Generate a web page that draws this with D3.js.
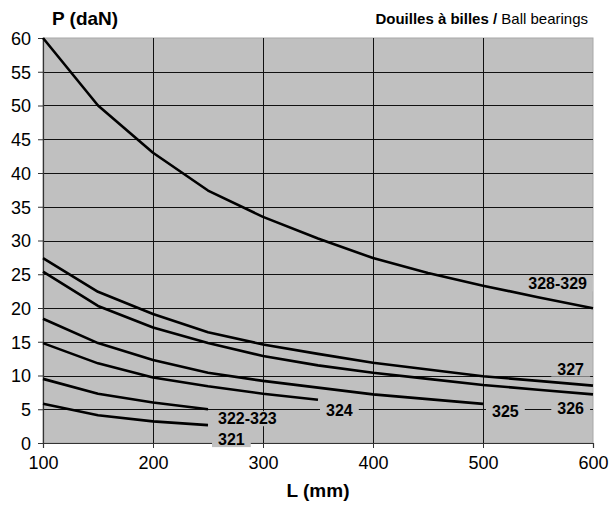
<!DOCTYPE html>
<html>
<head>
<meta charset="utf-8">
<script src="https://cdn.jsdelivr.net/npm/d3@7"></script>
<style>
  body { margin: 0; background: #fff; }
  text { font-family: Arial, "Liberation Sans", sans-serif; }
</style>
</head>
<body>
<div id="chart"></div>
<script>
// load (daN) vs length (mm)
var lengths = [100, 150, 200, 250, 300, 350, 400, 450, 500, 550, 600];
var s328_329 = [60, 50, 43, 37.4, 33.5, 30.3, 27.4, 25.2, 23.3, 21.6, 19.95];
var s327 = [27.4, 22.4, 19.1, 16.4, 14.6, 13.2, 11.9, 10.9, 9.9, 9.2, 8.5];
var s326 = [25.4, 20.3, 17.1, 14.8, 12.9, 11.5, 10.4, 9.5, 8.6, 7.9, 7.2];
var s325 = [18.4, 14.8, 12.3, 10.4, 9.2, 8.2, 7.2, 6.5, 5.8];
var s324 = [14.8, 11.8, 9.7, 8.4, 7.3, 6.4];
var s322_323 = [9.5, 7.3, 6.0, 5.0];
var s321 = [5.8, 4.1, 3.2, 2.65];
var seriesNames = ["328-329", "327", "326", "325", "324", "322-323", "321"];
var yTicks = [0, 5, 10, 15, 20, 25, 30, 35, 40, 45, 50, 55, 60];
var xTicks = [100, 200, 300, 400, 500, 600];

var allSeries = [s328_329, s327, s326, s325, s324, s322_323, s321];

// label placement relative to the last point of each curve (dx, dy, anchor)
var labelPos = {
  "328-329": [-6, -19, "end"],
  "327": [-9, -11, "end"],
  "326": [-9, 20, "end"],
  "325": [9, 13, "start"],
  "324": [8, 16, "start"],
  "322-323": [10, 15, "start"],
  "321": [10, 20, "start"]
};

var svgWidth = 611;
var svgHeight = 514;
var margin = { top: 38, right: 18, bottom: 71, left: 43 };
var width = svgWidth - margin.left - margin.right;
var height = svgHeight - margin.top - margin.bottom;

var svg = d3.select("#chart")
  .append("svg")
  .attr("width", svgWidth)
  .attr("height", svgHeight);

var chartGroup = svg.append("g")
  .attr("transform", `translate(${margin.left}, ${margin.top})`);

var xScale = d3.scaleLinear().domain([100, 600]).range([0, width]);
var yScale = d3.scaleLinear().domain([0, 60]).range([height, 0]);

// plot background + light border
chartGroup.append("rect")
  .attr("width", width)
  .attr("height", height)
  .attr("fill", "#c0c0c0")
  .attr("stroke", "#a8a8a8")
  .attr("stroke-width", 1);

// gridlines
chartGroup.selectAll(".hgrid")
  .data(yTicks.filter(d => d > 0 && d < 60))
  .enter()
  .append("line")
  .attr("x1", 0).attr("x2", width)
  .attr("y1", d => Math.round(yScale(d)) + 0.5)
  .attr("y2", d => Math.round(yScale(d)) + 0.5)
  .attr("stroke", "#111")
  .attr("stroke-width", 1);

chartGroup.selectAll(".vgrid")
  .data(xTicks.filter(d => d > 100 && d < 600))
  .enter()
  .append("line")
  .attr("y1", 0).attr("y2", height)
  .attr("x1", d => Math.round(xScale(d)) + 0.5)
  .attr("x2", d => Math.round(xScale(d)) + 0.5)
  .attr("stroke", "#111")
  .attr("stroke-width", 1);

// axes
var bottomAxis = d3.axisBottom(xScale).tickValues(xTicks).tickSize(5).tickPadding(8);
var leftAxis = d3.axisLeft(yScale).tickValues(yTicks).tickSize(5).tickPadding(7);

var xAxisG = chartGroup.append("g")
  .attr("transform", `translate(0, ${height})`)
  .call(bottomAxis);
var yAxisG = chartGroup.append("g")
  .call(leftAxis);

[xAxisG, yAxisG].forEach(function(g) {
  g.select(".domain").attr("stroke", "#333").attr("stroke-width", 1.2);
  g.selectAll(".tick line").attr("stroke", "#333");
  g.selectAll(".tick text")
    .attr("fill", "#000")
    .attr("font-size", "18px")
    .style("font-family", "Arial, 'Liberation Sans', sans-serif");
});
yAxisG.selectAll(".tick text").attr("dy", "0.36em");

// curves
var line = d3.line()
  .x((d, i) => xScale(lengths[i]))
  .y(d => yScale(d));

chartGroup.selectAll(".curve")
  .data(allSeries)
  .enter()
  .append("path")
  .attr("d", d => line(d))
  .attr("fill", "none")
  .attr("stroke", "#000")
  .attr("stroke-width", 2.6)
  .attr("stroke-linejoin", "round");

// curve labels on tight gray boxes (they hide the gridlines behind them)
allSeries.forEach(function(s, k) {
  var name = seriesNames[k];
  var last = s.length - 1;
  var p = labelPos[name];
  var lg = chartGroup.append("g");
  var ty = yScale(s[last]) + p[1];
  var t = lg.append("text")
    .attr("x", xScale(lengths[last]) + p[0])
    .attr("y", ty)
    .attr("text-anchor", p[2])
    .attr("font-size", "16px")
    .attr("font-weight", "bold")
    .text(name);
  var bb = t.node().getBBox();
  lg.insert("rect", "text")
    .attr("x", bb.x - 6)
    .attr("y", ty - 13)
    .attr("width", Math.min(bb.width + 12, width - (bb.x - 6)))
    .attr("height", 15)
    .attr("fill", "#c0c0c0");
});

// axis titles
svg.append("text")
  .attr("x", 52)
  .attr("y", 25)
  .attr("font-size", "19px")
  .attr("font-weight", "bold")
  .attr("xml:space", "preserve")
  .text("P (daN)");

var title = svg.append("text")
  .attr("x", 588)
  .attr("y", 24)
  .attr("text-anchor", "end")
  .attr("font-size", "15px");
title.append("tspan").attr("font-weight", "bold").text("Douilles à billes / ");
title.append("tspan").text("Ball bearings");

svg.append("text")
  .attr("x", margin.left + width / 2)
  .attr("y", 497)
  .attr("text-anchor", "middle")
  .attr("font-size", "19px")
  .attr("font-weight", "bold")
  .text("L (mm)");
</script>
</body>
</html>
